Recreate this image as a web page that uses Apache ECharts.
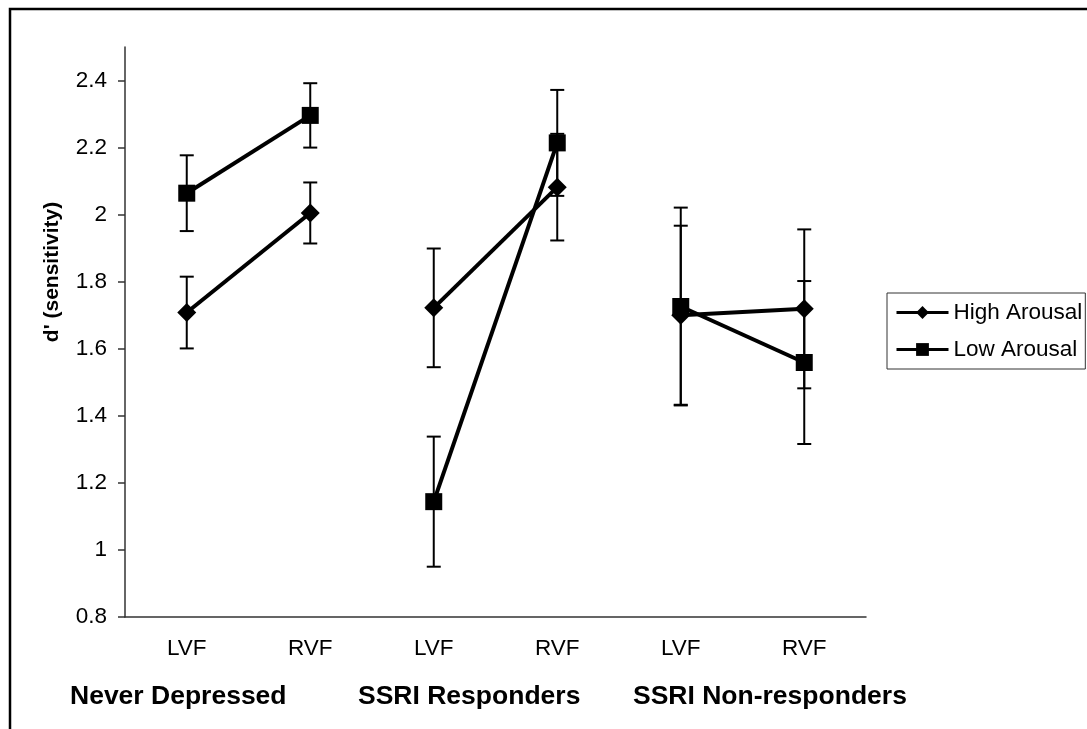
<!DOCTYPE html>
<html>
<head>
<meta charset="utf-8">
<script src="https://cdn.jsdelivr.net/npm/echarts@6/dist/echarts.min.js"></script>
<style>
  html, body { margin: 0; padding: 0; background: #fff; }
  #chart { width: 1087px; height: 729px; }
</style>
</head>
<body>
<div id="chart"></div>
<script>
const categories = ["LVF", "RVF", "LVF", "RVF", "LVF", "RVF"];
const groups = ["Never Depressed", "SSRI Responders", "SSRI Non-responders"];
const yTicks = [0.8, 1, 1.2, 1.4, 1.6, 1.8, 2, 2.2, 2.4];

const highMean = [1.708, 2.005, 1.722, 2.082, 1.700, 1.719];
const highErr = [0.107, 0.091, 0.177, 0.159, 0.267, 0.237];
const lowMean = [2.064, 2.296, 1.144, 2.214, 1.726, 1.559];
const lowErr = [0.113, 0.096, 0.194, 0.158, 0.295, 0.243];

const font = "Liberation Sans, Arial, sans-serif";
const black = "#000";

// one line series per group so the segments are not joined across groups
const groupSeries = (name, mean, symbol, size) =>
  groups.map((g, gi) => ({
    name: name,
    type: "line",
    symbol: symbol,
    symbolSize: size,
    showSymbol: true,
    z: 3,
    lineStyle: { color: black, width: 4 },
    itemStyle: { color: black },
    data: mean.map((v, i) => (Math.floor(i / 2) === gi ? v : "-")),
  }));

const errData = (mean, err) => mean.map((v, i) => [i, v - err[i], v + err[i]]);

const errorBars = (data) => ({
  type: "custom",
  z: 2,
  silent: true,
  data: data,
  renderItem: (params, api) => {
    const lo = api.coord([api.value(0), api.value(1)]);
    const hi = api.coord([api.value(0), api.value(2)]);
    const w = 7;
    const style = { stroke: black, lineWidth: 2 };
    return {
      type: "group",
      children: [
        { type: "line", shape: { x1: lo[0], y1: lo[1], x2: hi[0], y2: hi[1] }, style },
        { type: "line", shape: { x1: hi[0] - w, y1: hi[1], x2: hi[0] + w, y2: hi[1] }, style },
        { type: "line", shape: { x1: lo[0] - w, y1: lo[1], x2: lo[0] + w, y2: lo[1] }, style },
      ],
    };
  },
});

const groupLeft = [70, 358, 633];

const chart = echarts.init(document.getElementById("chart"), null, { renderer: "canvas" });

chart.setOption({
  animation: false,
  backgroundColor: "#fff",
  grid: { left: 125, top: 47, width: 741, height: 570 },
  legend: {
    orient: "vertical",
    left: 887,
    top: 293,
    padding: [8, 3, 8, 8],
    itemGap: 14,
    itemWidth: 52,
    itemHeight: 16,
    borderColor: "#333",
    borderWidth: 1,
    lineStyle: { width: 3 },
    textStyle: { fontFamily: font, fontSize: 22.5, color: black },
    data: ["High Arousal", "Low Arousal"],
  },
  xAxis: {
    type: "category",
    data: categories,
    boundaryGap: true,
    axisLine: { lineStyle: { color: "#333", width: 1.5 } },
    axisTick: { interval: 0, length: 7, lineStyle: { color: "#333", width: 1.5 } },
    axisLabel: { interval: 0, margin: 20, fontFamily: font, fontSize: 22.5, color: black },
    splitLine: { show: false },
  },
  yAxis: {
    type: "value",
    min: 0.8,
    max: 2.5,
    axisLine: { show: true, lineStyle: { color: "#333", width: 1.5 } },
    axisTick: { show: true, length: 7, customValues: yTicks, lineStyle: { color: "#333", width: 1.5 } },
    axisLabel: {
      customValues: yTicks,
      margin: 18,
      fontFamily: font,
      fontSize: 22.5,
      color: black,
      formatter: (v) => String(+v.toFixed(1)),
    },
    splitLine: { show: false },
  },
  graphic: [
    {
      type: "rect",
      silent: true,
      shape: { x: 10, y: 9, width: 1110, height: 760 },
      style: { fill: null, stroke: black, lineWidth: 2.5 },
    },
    {
      type: "text",
      x: 52,
      y: 272,
      rotation: Math.PI / 2,
      style: {
        text: "d' (sensitivity)",
        font: "bold 21px " + font,
        fill: black,
        align: "center",
        verticalAlign: "middle",
      },
    },
  ].concat(
    groups.map((g, i) => ({
      type: "text",
      x: groupLeft[i],
      y: 697,
      style: {
        text: g,
        font: "bold 26.5px " + font,
        fill: black,
        align: "left",
        verticalAlign: "middle",
      },
    }))
  ),
  series: [
    errorBars(errData(highMean, highErr)),
    errorBars(errData(lowMean, lowErr)),
    ...groupSeries("High Arousal", highMean, "diamond", 19),
    ...groupSeries("Low Arousal", lowMean, "rect", 17),
  ],
});
</script>
</body>
</html>
